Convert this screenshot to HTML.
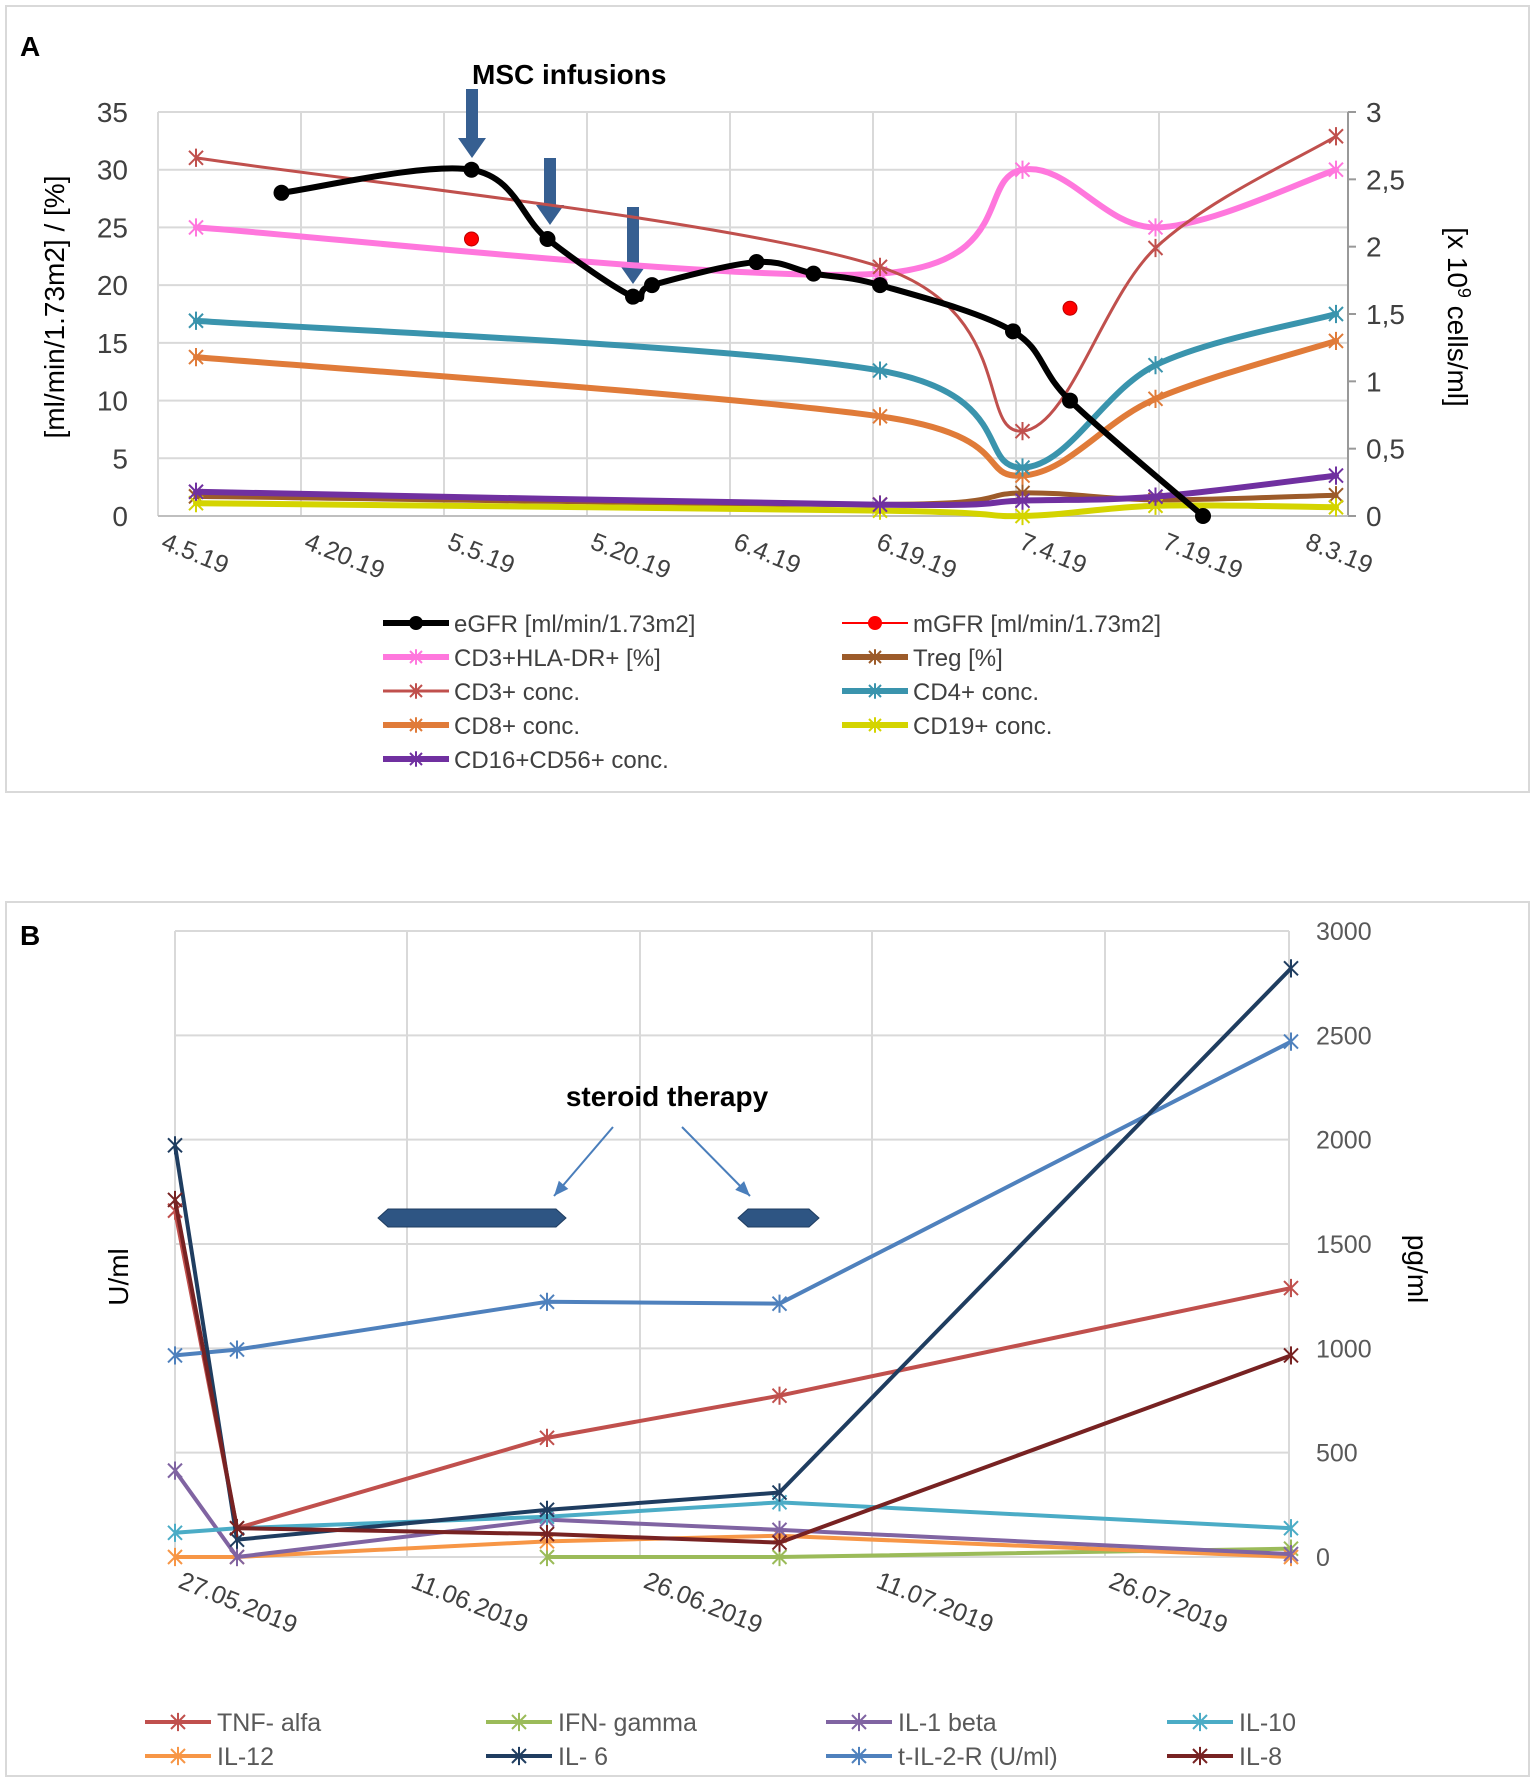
<!DOCTYPE html>
<html><head><meta charset="utf-8">
<style>
body{margin:0;background:#fff;}
svg text{font-family:"Liberation Sans Narrow","Liberation Sans",sans-serif;}
</style></head>
<body>
<svg id="svg" width="1535" height="1782" viewBox="0 0 1535 1782" xmlns="http://www.w3.org/2000/svg">
<rect x="6" y="6" width="1523" height="786" fill="#fff" stroke="#d9d9d9" stroke-width="2"/>
<rect x="6" y="902" width="1523" height="874" fill="#fff" stroke="#d9d9d9" stroke-width="2"/>
<g id="A"></g>
<g id="B"></g>
</svg>
<script>
// ---------- Panel A data ----------
const aTicksLeft = [0,5,10,15,20,25,30,35];
const aTicksRight = ["0","0,5","1","1,5","2","2,5","3"];
const aDateLabels = ["4.5.19","4.20.19","5.5.19","5.20.19","6.4.19","6.19.19","7.4.19","7.19.19","8.3.19"];
const egfrDays = [9,29,37,46,48,59,65,72,86,92,106];
const egfrVals = [28,30,24,19,20,22,21,20,16,10,0];
const mgfrDays = [29,92];
const mgfrVals = [24,18];
const cellDays = [0,72,87,101,120];
const cd3hla = [25,21,30,25,30];
const treg = [1.7,1.0,2.0,1.4,1.8];
const cd3 = [2.66,1.85,0.63,1.99,2.82];
const cd4 = [1.45,1.08,0.36,1.12,1.50];
const cd8 = [1.18,0.74,0.30,0.87,1.30];
const cd19 = [0.095,0.04,0.0,0.076,0.065];
const cd1656 = [0.18,0.084,0.114,0.144,0.30];

// ---------- Panel B data ----------
const bTicks = [0,500,1000,1500,2000,2500,3000];
const bDateLabels = ["27.05.2019","11.06.2019","26.06.2019","11.07.2019","26.07.2019"];
const bDays = [0,4,24,39,72];
const tnf = [1660,138,571,773,1289];
const ifn = [null,null,0,0,40];
const il1b = [414,0,179,130,14];
const il10 = [116,138,193,262,138];
const il12 = [0,0,75,102,0];
const il6 = [1973,83,226,309,2821];
const il2r = [966,994,1223,1214,2470];
const il8 = [1711,138,110,69,966];

const NS="http://www.w3.org/2000/svg";
function mk(parent,tag,attrs,text){const e=document.createElementNS(NS,tag);for(const k in attrs)e.setAttribute(k,attrs[k]);if(text!==undefined)e.textContent=text;parent.appendChild(e);return e;}
function smooth(pts){let d=`M${pts[0][0]},${pts[0][1]}`;for(let i=0;i<pts.length-1;i++){const p0=pts[Math.max(i-1,0)],p1=pts[i],p2=pts[i+1],p3=pts[Math.min(i+2,pts.length-1)];const t=6;d+=` C${p1[0]+(p2[0]-p0[0])/t},${p1[1]+(p2[1]-p0[1])/t} ${p2[0]-(p3[0]-p1[0])/t},${p2[1]-(p3[1]-p1[1])/t} ${p2[0]},${p2[1]}`;}return d;}
function star(g,x,y,c,r,w){const s=mk(g,'path',{d:`M${x-r},${y-r}L${x+r},${y+r}M${x-r},${y+r}L${x+r},${y-r}M${x},${y-r*1.3}L${x},${y+r*1.3}`,stroke:c,'stroke-width':w||2,fill:'none'});return s;}

// ---------- Panel A ----------
const A=document.getElementById('A');
const aL=158,aR=1348,aT=112,aB=516;
const ax=d=>196+d*9.5;
const ayL=v=>aB-(v/35)*(aB-aT);
const ayR=v=>aB-(v/3)*(aB-aT);
for(let k=0;k<8;k++){const l=mk(A,'line',{x1:aL+143*k,x2:aL+143*k,y1:aT,y2:aB,stroke:'#d9d9d9','stroke-width':2});}
aTicksLeft.forEach(v=>{const y=ayL(v);const l=mk(A,'line',{x1:aL,x2:aR,y1:y,y2:y,stroke:'#d9d9d9','stroke-width':2});
const t=mk(A,'text',{x:128,y:y+10,'text-anchor':'end','font-size':28,fill:'#404040'},v);});
aTicksRight.forEach((s,i)=>{const y=ayR(i*0.5);mk(A,'line',{x1:aR,x2:aR+8,y1:y,y2:y,stroke:'#999','stroke-width':2});
const t=mk(A,'text',{x:1366,y:y+10,'font-size':28,fill:'#404040'},s);});
mk(A,'line',{x1:aR,x2:aR,y1:aT,y2:aB,stroke:'#999','stroke-width':2});
mk(A,'line',{x1:aL,x2:aR,y1:aB,y2:aB,stroke:'#bfbfbf','stroke-width':2});
aDateLabels.forEach((s,k)=>{const x=aL+143*k+2,y=548;const t=mk(A,'text',{x:x,y:y,'font-size':25,fill:'#404040',transform:`rotate(22 ${x} ${y})`},s);});
let t=mk(A,'text',{x:20,y:56,'font-size':28,'font-weight':'bold',fill:'#000','font-family':'Liberation Sans'},'A');
t=mk(A,'text',{x:0,y:0,'font-size':28,fill:'#000','text-anchor':'middle','font-family':'Liberation Sans',transform:'translate(64 307) rotate(-90)'},'[ml/min/1.73m2] / [%]');
t=mk(A,'text',{x:0,y:0,'font-size':28,fill:'#000','text-anchor':'middle','font-family':'Liberation Sans',transform:'translate(1448 317) rotate(90)'});
t.innerHTML='[x 10<tspan dy="-10" font-size="18">9</tspan><tspan dy="10"> cells/ml]</tspan>';
t=mk(A,'text',{x:472,y:84,'font-size':28,'font-weight':'bold',fill:'#000'},'MSC infusions');
[[472,89,158],[550,158,225],[633,207,284]].forEach(a=>{const p=mk(A,'path',{d:`M${a[0]-6},${a[1]}h12v${a[2]-a[1]-20}h8l-14,20l-14,-20h8z`,fill:'#365f91'});});

function seriesA(vals,days,yf,color,w,name,marker){const pts=vals.map((v,i)=>[ax(days[i]),yf(v)]);const p=mk(A,'path',{d:smooth(pts),stroke:color,'stroke-width':w,fill:'none','stroke-linecap':'round'});
pts.forEach(q=>{if(marker==='dot'){const c=mk(A,'circle',{cx:q[0],cy:q[1],r:8,fill:'#000'});}else{const s=star(A,q[0],q[1],color,7,2);}});}
seriesA(treg,cellDays,ayL,'#9c5b2a',5,'treg-line');
seriesA(cd19,cellDays,ayR,'#d4d400',6,'cd19-line');
seriesA(cd1656,cellDays,ayR,'#7030a0',6,'cd16cd56-line');
seriesA(cd8,cellDays,ayR,'#e07b39',6,'cd8-line');
seriesA(cd4,cellDays,ayR,'#3a94ad',6,'cd4-line');
seriesA(cd3hla,cellDays,ayL,'#ff77dd',6,'cd3hladr-line');
seriesA(cd3,cellDays,ayR,'#c0504d',3,'cd3-line');
seriesA(egfrVals,egfrDays,ayL,'#000',6,'egfr-line','dot');
mgfrVals.forEach((v,i)=>{const c=mk(A,'circle',{cx:ax(mgfrDays[i]),cy:ayL(v),r:7,fill:'#f00',stroke:'#b00'});});

const legA=[['eGFR [ml/min/1.73m2]','#000','dot',6],['mGFR [ml/min/1.73m2]','#f00','red',2],['CD3+HLA-DR+ [%]','#ff77dd','s',6],['Treg [%]','#9c5b2a','s',6],['CD3+ conc.','#c0504d','s',3],['CD4+ conc.','#3a94ad','s',6],['CD8+ conc.','#e07b39','s',6],['CD19+ conc.','#d4d400','s',6],['CD16+CD56+ conc.','#7030a0','s',6]];
legA.forEach((e,i)=>{const col=i%2,row=Math.floor(i/2);const x0=col?842:383,y=623+row*34;const g=mk(A,'g',{});
mk(g,'line',{x1:x0,x2:x0+66,y1:y,y2:y,stroke:e[1],'stroke-width':e[3]});
if(e[2]==='dot')mk(g,'circle',{cx:x0+33,cy:y,r:7,fill:'#000'});else if(e[2]==='red')mk(g,'circle',{cx:x0+33,cy:y,r:7,fill:'#f00'});else star(g,x0+33,y,e[1],6,2);
mk(g,'text',{x:x0+71,y:y+9,'font-size':24,fill:'#404040'},e[0]);});

// ---------- Panel B ----------
const B=document.getElementById('B');
const bL=175,bR=1289,bT=931,bBt=1557;
const bx=d=>bL+d*15.5;
const by=v=>bBt-(v/3000)*(bBt-bT);
[175,407,640,872,1105,1289].forEach(x=>{const l=mk(B,'line',{x1:x,x2:x,y1:bT,y2:bBt,stroke:'#d9d9d9','stroke-width':2});});
bTicks.forEach(v=>{const y=by(v);const l=mk(B,'line',{x1:bL,x2:bR,y1:y,y2:y,stroke:'#d9d9d9','stroke-width':2});
const tt=mk(B,'text',{x:1316,y:y+9,'font-size':25,fill:'#595959'},v);});
bDateLabels.forEach((s,k)=>{const x=bL+232.6*k+2,y=1587;const tt=mk(B,'text',{x:x,y:y,'font-size':25,fill:'#404040',transform:`rotate(22 ${x} ${y})`},s);});
t=mk(B,'text',{x:20,y:945,'font-size':28,'font-weight':'bold',fill:'#000','font-family':'Liberation Sans'},'B');
t=mk(B,'text',{x:0,y:0,'font-size':28,fill:'#000','text-anchor':'middle','font-family':'Liberation Sans',transform:'translate(128 1277) rotate(-90)'},'U/ml');
t=mk(B,'text',{x:0,y:0,'font-size':28,fill:'#000','text-anchor':'middle','font-family':'Liberation Sans',transform:'translate(1408 1269) rotate(90)'},'pg/ml');
t=mk(B,'text',{x:667,y:1106,'font-size':28,'font-weight':'bold',fill:'#000','text-anchor':'middle'},'steroid therapy');
[[613,1127,554,1196],[682,1127,750,1196]].forEach(a=>{const g=mk(B,'g',{});
mk(g,'line',{x1:a[0],y1:a[1],x2:a[2],y2:a[3],stroke:'#4a7ebb','stroke-width':2});const ang=Math.atan2(a[3]-a[1],a[2]-a[0]);const h=16;
mk(g,'path',{d:`M${a[2]},${a[3]}L${a[2]-h*Math.cos(ang-0.4)},${a[3]-h*Math.sin(ang-0.4)}L${a[2]-h*Math.cos(ang+0.4)},${a[3]-h*Math.sin(ang+0.4)}Z`,fill:'#4a7ebb'});});
[[378,566],[738,819]].forEach(a=>{const p=mk(B,'path',{d:`M${a[0]},1218l10,-9h${a[1]-a[0]-20}l10,9l-10,9h-${a[1]-a[0]-20}z`,fill:'#2e5583',stroke:'#1f3d60','stroke-width':1});});

function seriesB(vals,color,name){const pts=[];vals.forEach((v,i)=>{if(v!==null)pts.push([bx(bDays[i]),by(v)]);});const p=mk(B,'polyline',{points:pts.map(q=>q.join(',')).join(' '),stroke:color,'stroke-width':4,fill:'none','stroke-linejoin':'round'});
pts.forEach(q=>{const s=star(B,q[0],q[1],color,7,2);});}
seriesB(ifn,'#9bbb59','ifn-gamma-line');
seriesB(il12,'#f79646','il12-line');
seriesB(il1b,'#8064a2','il1beta-line');
seriesB(il10,'#4bacc6','il10-line');
seriesB(tnf,'#c0504d','tnf-alfa-line');
seriesB(il2r,'#4f81bd','t-il2r-line');
seriesB(il6,'#1f3d60','il6-line');
seriesB(il8,'#772222','il8-line');

const legB=[['TNF- alfa','#c0504d'],['IFN- gamma','#9bbb59'],['IL-1 beta','#8064a2'],['IL-10','#4bacc6'],['IL-12','#f79646'],['IL- 6','#1f3d60'],['t-IL-2-R (U/ml)','#4f81bd'],['IL-8','#772222']];
const legBx=[145,486,826,1167];
legB.forEach((e,i)=>{const col=i%4,row=Math.floor(i/4);const x0=legBx[col],y=1722+row*34;const g=mk(B,'g',{});
mk(g,'line',{x1:x0,x2:x0+66,y1:y,y2:y,stroke:e[1],'stroke-width':4});star(g,x0+33,y,e[1],7,2);
mk(g,'text',{x:x0+72,y:y+9,'font-size':25,fill:'#595959'},e[0]);});
</script>
</body></html>
